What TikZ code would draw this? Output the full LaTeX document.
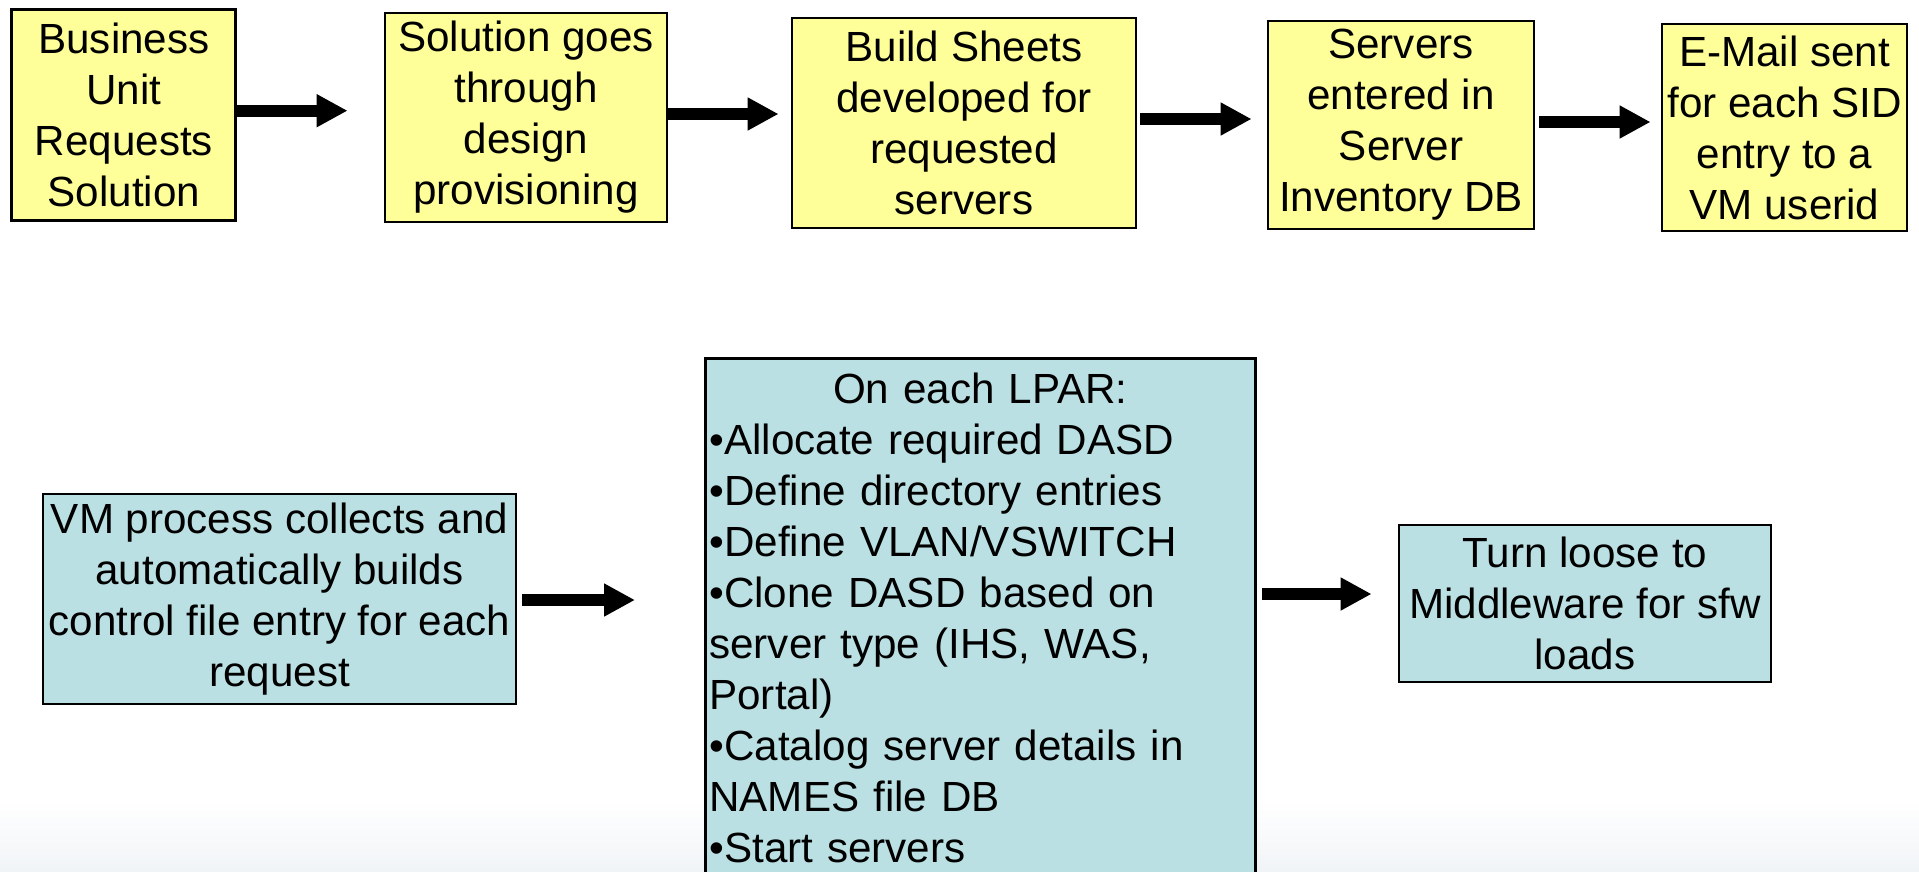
\documentclass[tikz,border=0pt]{standalone}
\usepackage{fontspec}
\setmainfont{Liberation Sans}
\usetikzlibrary{arrows.meta}
\definecolor{reqyellow}{HTML}{FFFF99}
\definecolor{vmblue}{HTML}{BBE0E3}
\definecolor{slidefade}{HTML}{F1F4F7}

\begin{document}
\begin{tikzpicture}[
  box/.style={draw, line width=0.8pt, align=center, inner sep=0.03cm, font=\fontsize{12}{14.5}\selectfont},
  req/.style={box, fill=reqyellow},
  vmbox/.style={box, fill=vmblue},
  flow/.style={line width=0.117cm, -{Triangle[length=0.31cm,width=0.31cm]}}]
\useasboundingbox (0,0) rectangle (19.19,-8.71);
\clip (0,0) rectangle (19.19,-8.71);
\shade[top color=white, bottom color=slidefade] (0,-8.0) rectangle (19.19,-8.71);
% request path
\node[req, minimum width=2.24cm, minimum height=2.11cm] (biz) at (1.239,-1.147) {Business\\Unit\\Requests\\Solution};
\node[req, minimum width=2.82cm, minimum height=2.09cm] (design) at (5.26,-1.175) {Solution goes\\through\\design\\provisioning};
\node[req, minimum width=3.44cm, minimum height=2.10cm] (sheets) at (9.64,-1.23) {Build Sheets\\developed for\\requested\\servers};
\node[req, minimum width=2.66cm, minimum height=2.08cm] (sid) at (14.01,-1.25) {Servers\\entered in\\Server\\Inventory DB};
\node[req, minimum width=2.45cm, minimum height=2.07cm] (mail) at (17.845,-1.275) {E-Mail sent\\for each SID\\entry to a\\VM userid};
\draw[flow, shorten >=0.36cm] ([yshift=0.04cm]biz.east) -- ([yshift=0.04cm]biz.east -| design.west);
\draw[flow, shorten >=0.12cm] ([yshift=0.035cm]design.east) -- ([yshift=0.035cm]design.east -| sheets.west);
\draw[flow, shorten <=0.03cm, shorten >=0.15cm] ([yshift=0.04cm]sheets.east) -- ([yshift=0.04cm]sheets.east -| sid.west);
\draw[flow, shorten <=0.04cm, shorten >=0.10cm] ([yshift=0.03cm]sid.east) -- ([yshift=0.03cm]sid.east -| mail.west);
% VM side
\node[vmbox, minimum width=4.73cm, minimum height=2.10cm] (vm) at (2.795,-5.99) {VM process collects and\\automatically builds\\control file entry for each\\request};
\node[vmbox, anchor=north west, align=left, inner xsep=0.04cm, inner ysep=0.15cm, text width=5.42cm] (lpar) at (7.04,-3.57)
  {\makebox[\linewidth]{On each LPAR:}\\
   •Allocate required DASD\\
   •Define directory entries\\
   •Define VLAN/VSWITCH\\
   •Clone DASD based on\\
   server type (IHS, WAS,\\
   Portal)\\
   •Catalog server details in\\
   NAMES file DB\\
   •Start servers\rule[-0.6cm]{0pt}{0.6cm}};
\node[vmbox, minimum width=3.72cm, minimum height=1.57cm] (loose) at (15.85,-6.035) {Turn loose to\\Middleware for sfw\\loads};
\draw[flow, shorten <=0.05cm, shorten >=0.69cm] ([yshift=-0.01cm]vm.east) -- ([yshift=-0.01cm]vm.east -| lpar.west);
\draw[flow, shorten <=0.05cm, shorten >=0.26cm] ([yshift=0.095cm]loose.west -| lpar.east) -- ([yshift=0.095cm]loose.west);
\end{tikzpicture}
\end{document}
